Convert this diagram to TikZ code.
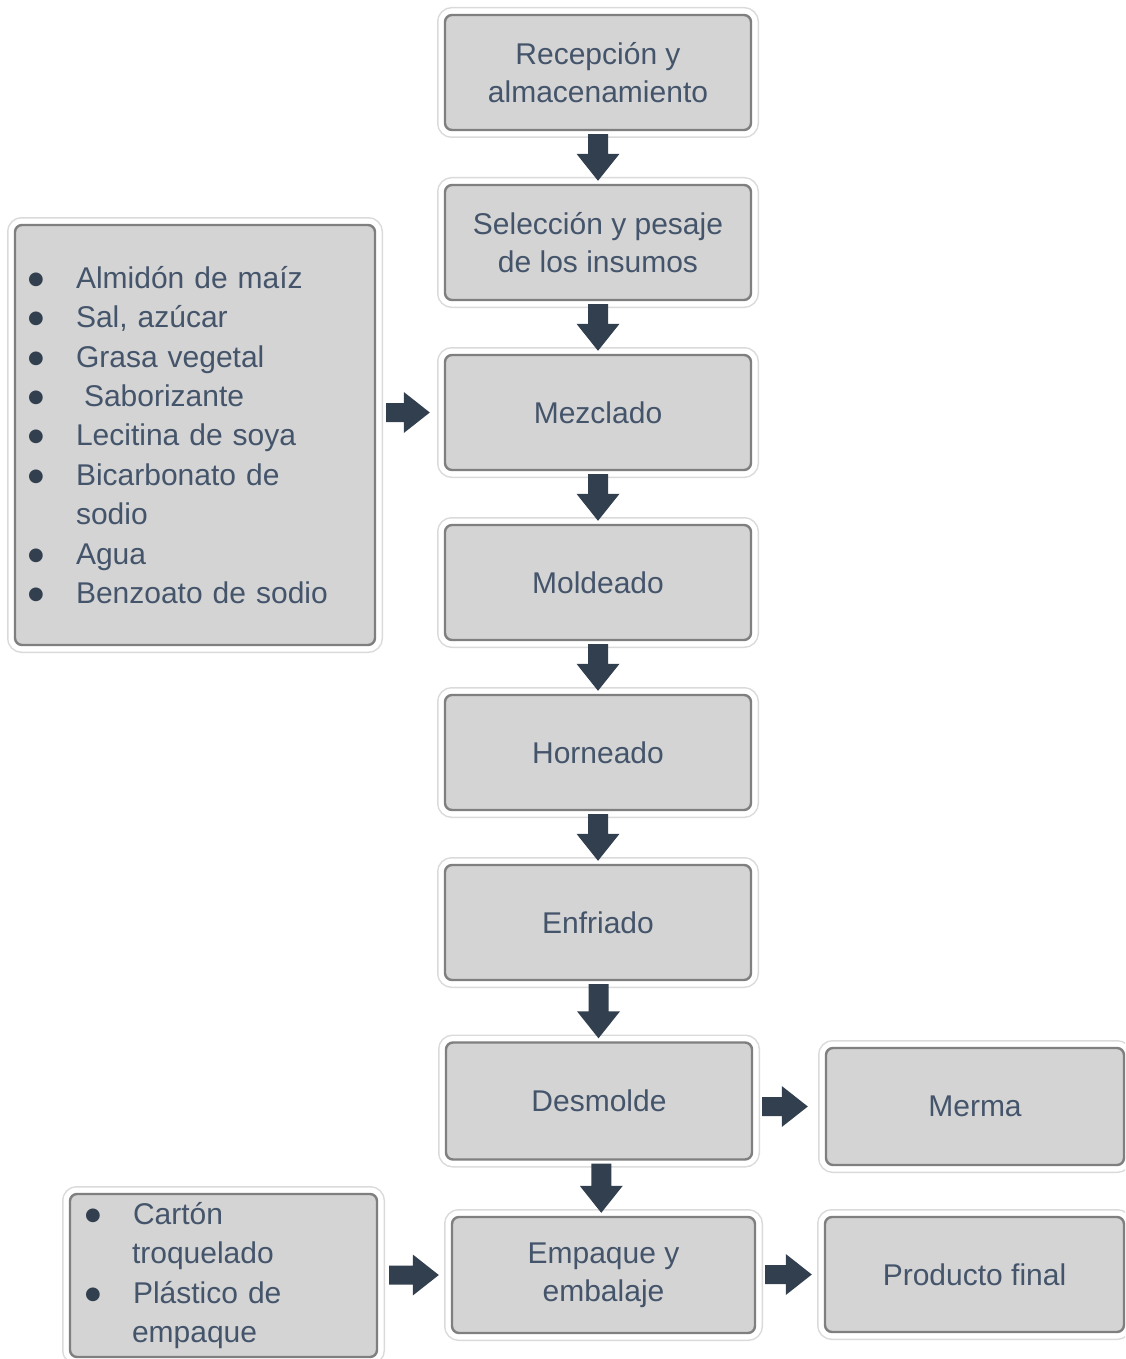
\documentclass[tikz,border=0pt]{standalone}
\usepackage{fontspec}
\setmainfont{Liberation Sans}
\newfontfamily\dotfont{DejaVu Sans}
\usetikzlibrary{calc}

\definecolor{boxfill}{HTML}{D4D4D4}
\definecolor{boxline}{HTML}{7F7F7F}
\definecolor{ringline}{HTML}{DADADA}
\definecolor{txt}{HTML}{44546A}
\definecolor{flowcol}{HTML}{323F4F}

\tikzset{
  panel/.style={rectangle, rounded corners=7pt, fill=boxfill, draw=boxline, line width=2.4pt,
    preaction={draw=ringline, line width=16pt},
    preaction={draw=white, line width=13pt},
    text=txt, inner sep=0pt},
  stage/.style={panel, align=center, font=\fontsize{30}{38}\selectfont},
  listing/.style={panel, align=left, font=\fontsize{30}{39.4}\selectfont},
  flow/.style={fill=flowcol},
}

% block arrow pointing down from #1 to #2
\newcommand\flowdown[2]{%
  \fill[flow] let \p1=(#1.south), \p2=(#2.north), \p3=($(#1.south)!.5!(#2.north)$) in
    (\x3-10pt,\y1-3pt) -- (\x3+10pt,\y1-3pt) -- (\x3+10pt,\y2+30pt) -- (\x3+21.5pt,\y2+30pt)
    -- (\x3,\y2+3pt) -- (\x3-21.5pt,\y2+30pt) -- (\x3-10pt,\y2+30pt) -- cycle;}
% block arrow pointing right from #1 to #2, gaps #3 (start) and #4 (tip)
\newcommand\flowright[4]{%
  \fill[flow] let \p1=(#1.east), \p2=(#2.west) in
    (\x1+#3,\y2+9.5pt) -- (\x1+#3,\y2-9.5pt) -- (\x2-#4-26pt,\y2-9.5pt) -- (\x2-#4-26pt,\y2-20.5pt)
    -- (\x2-#4,\y2) -- (\x2-#4-26pt,\y2+20.5pt) -- (\x2-#4-26pt,\y2+9.5pt) -- cycle;}

% list bullet: a large dark dot
\newcommand\itembullet{\makebox[45pt][l]{\hspace*{-3pt}\raisebox{4pt}{\dotfont\fontsize{18}{18}\selectfont\textcolor{flowcol}{●}}}}

\begin{document}
\begin{tikzpicture}[x=1pt, y=-1pt]
\useasboundingbox (0,0) rectangle (1125,1359);
\clip (0,0) rectangle (1125,1359);

% main process column
\node[stage, minimum width=306pt, minimum height=115pt] (r1) at (598,72.5) {Recepción y\\almacenamiento};
\node[stage, minimum width=306pt, minimum height=115pt] (r2) at (598,242.5) {Selección y pesaje\\de los insumos};
\node[stage, minimum width=306pt, minimum height=115pt] (r3) at (598,412.5) {Mezclado};
\node[stage, minimum width=306pt, minimum height=115pt] (r4) at (598,582.5) {Moldeado};
\node[stage, minimum width=306pt, minimum height=115pt] (r5) at (598,752.5) {Horneado};
\node[stage, minimum width=306pt, minimum height=115pt] (r6) at (598,922.5) {Enfriado};
\node[stage, minimum width=306pt, minimum height=117pt] (r7) at (599,1101) {Desmolde};
\node[stage, minimum width=303pt, minimum height=116pt] (r8) at (603.5,1275) {Empaque y\\embalaje};

% outputs
\node[stage, minimum width=298pt, minimum height=117pt] (merma) at (975,1106.5) {Merma};
\node[stage, minimum width=299pt, minimum height=115pt] (prod) at (974.5,1274.5) {Producto final};

% inputs
\node[listing, minimum width=360pt, minimum height=420pt, text width=328pt] (ing) at (195,435) {%
  \itembullet Almidón de maíz\\
  \itembullet Sal, azúcar\\
  \itembullet Grasa vegetal\\
  \itembullet\hspace*{8pt}Saborizante\\
  \itembullet Lecitina de soya\\
  \itembullet Bicarbonato de\\
  \hspace*{45pt}sodio\\
  \itembullet Agua\\
  \itembullet Benzoato de sodio};
\node[listing, minimum width=307pt, minimum height=163pt, text width=271pt] (pack) at (223.5,1275.5) {%
  \itembullet Cartón\\
  \hspace*{44pt}troquelado\\
  \itembullet Plástico de\\
  \hspace*{44pt}empaque};

% connectors
\flowdown{r1}{r2}
\flowdown{r2}{r3}
\flowdown{r3}{r4}
\flowdown{r4}{r5}
\flowdown{r5}{r6}
\flowdown{r6}{r7}
\flowdown{r7}{r8}
\flowright{ing}{r3}{10pt}{14pt}
\flowright{r7}{merma}{9pt}{17pt}
\flowright{pack}{r8}{11pt}{12pt}
\flowright{r8}{prod}{9pt}{12pt}
\end{tikzpicture}
\end{document}
